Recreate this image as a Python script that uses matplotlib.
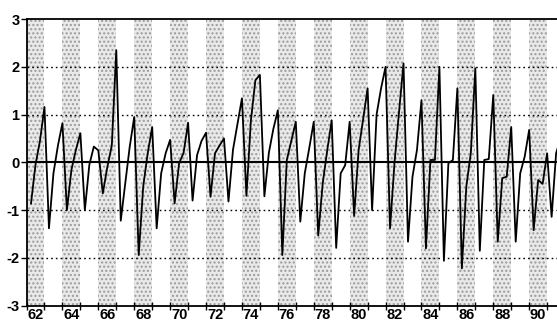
"""Quarterly seasonal series 1962-1991 with alternating year bands."""

import matplotlib
matplotlib.use("Agg")
import matplotlib.pyplot as plt
import numpy as np

years = list(range(1962, 1992))

# value in each quarter, one entry per year (1962Q1 not observed)
q1 = [np.nan, 1.16, 0.82, 0.61, 0.25, 2.35, 0.95, 0.74, 0.47, 0.83,
      0.62, 0.50, 1.34, 1.83, 1.09, 0.85, 0.85, 0.88, 0.85, 1.55,
      2.00, 2.07, 1.30, 2.00, 1.55, 1.97, 1.41, 0.74, 0.68, 0.19]
q2 = [-0.86, -1.38, -1.00, -1.00, -0.65, -1.22, -1.94, -1.38, -0.86, -0.80,
      -0.72, -0.82, -0.70, -0.71, -1.94, -1.24, -1.53, -1.79, -1.12, -1.00,
      -1.38, -1.66, -1.80, -2.06, -2.22, -1.85, -1.66, -1.66, -1.42, -1.14]
q3 = [-0.05, -0.23, -0.16, -0.05, -0.10, -0.44, -0.51, -0.23, -0.02, 0.15,
      0.19, 0.26, 0.88, 0.20, 0.05, -0.23, -0.44, -0.23, 0.26, 1.00,
      0.00, -0.30, 0.05, -0.02, -0.50, 0.05, -0.33, -0.23, -0.37, 0.19]
q4 = [0.45, 0.35, 0.26, 0.33, 0.35, 0.33, 0.19, 0.19, 0.20, 0.45,
      0.35, 0.80, 1.72, 0.70, 0.45, 0.30, 0.25, -0.06, 0.90, 1.55,
      1.05, 0.26, 0.05, 0.05, 0.20, 0.07, -0.30, 0.12, -0.45, 0.50]

y_ticks = [-3, -2, -1, 0, 1, 2, 3]


def main():
    plt.rcParams["font.family"] = ["Liberation Sans", "DejaVu Sans"]
    plt.rcParams["axes.unicode_minus"] = False
    plt.rcParams["hatch.linewidth"] = 1.0

    t = []
    v = []
    for i, yr in enumerate(years):
        for k, vals in enumerate([q1, q2, q3, q4]):
            if not np.isnan(vals[i]):
                t.append(yr + k / 4)
                v.append(vals[i])

    fig = plt.figure(figsize=(5.57, 3.28), dpi=100)
    ax = fig.add_axes([0.0476, 0.068, 0.9524, 0.874])

    for yr in years:
        if yr % 2 == 0:
            ax.axvspan(yr, yr + 1, facecolor="#e9e9e9", edgecolor="#9a9a9a",
                       hatch="....", linewidth=0, zorder=0)

    for yv in [-2, -1, 1, 2]:
        ax.axhline(yv, color="black", linestyle=(0, (1.2, 2.2)),
                   linewidth=1.0, zorder=1)
    ax.axhline(0, color="black", linewidth=1.5, zorder=2)

    ax.plot(t, v, color="black", linewidth=1.3, zorder=3)

    ax.set_xlim(1962, 1991.55)
    ax.set_ylim(-3, 3)
    ax.set_yticks(y_ticks)
    ax.set_yticklabels([str(y) for y in y_ticks], fontsize=10.5,
                       fontweight="bold")
    ax.set_xticks(years)
    ax.set_xticklabels([])
    even = [yr for yr in years if yr % 2 == 0]
    ax.set_xticks([yr + 0.5 for yr in even], minor=True)
    ax.set_xticklabels([f"{yr % 100:02d}" for yr in even], minor=True,
                       fontsize=10.5, fontweight="bold")
    ax.tick_params(axis="x", which="major", direction="inout", length=6,
                   width=1.0)
    ax.tick_params(axis="x", which="minor", length=0, pad=2)
    ax.tick_params(axis="y", direction="out", length=4, width=1.0, pad=1)

    ax.spines["right"].set_visible(False)
    for side in ["left", "bottom", "top"]:
        ax.spines[side].set_linewidth(1.3)

    fig.savefig("out.png", dpi=100)


if __name__ == "__main__":
    main()
